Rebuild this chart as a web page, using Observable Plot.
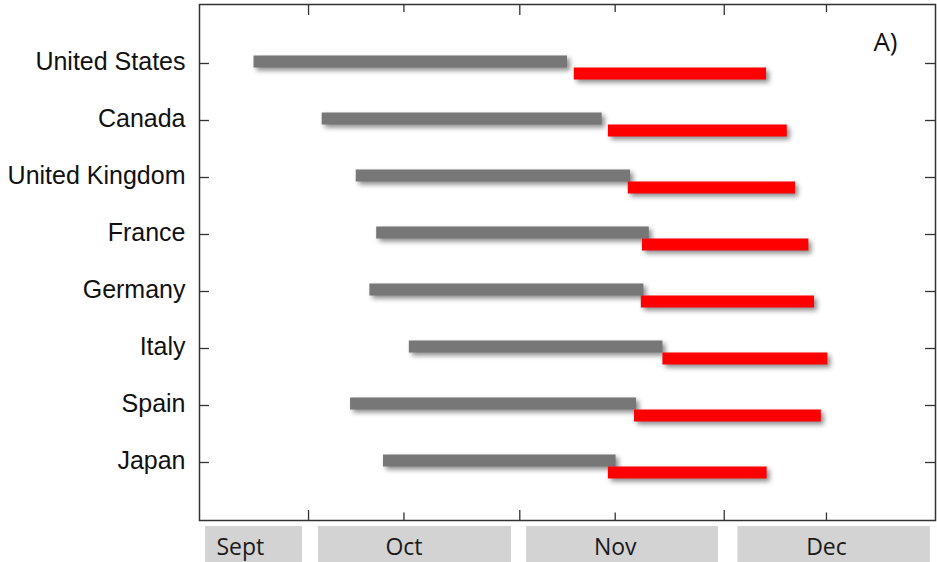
<!DOCTYPE html>
<html><head><meta charset="utf-8">
<script src="https://cdn.jsdelivr.net/npm/d3@7"></script>
<script src="https://cdn.jsdelivr.net/npm/@observablehq/plot@0.6"></script>
<style>
html,body{margin:0;padding:0;background:#fff;}
#chart svg{display:block;}
</style></head><body><div id="chart"></div>
<script>
// Data
const countries = ["United States","Canada","United Kingdom","France","Germany","Italy","Spain","Japan"];
const grayStart = ["2020-09-23","2020-10-03","2020-10-08","2020-10-11","2020-10-10","2020-10-15T19:00Z","2020-10-07T04:00Z","2020-10-12"];
const grayEnd   = ["2020-11-08","2020-11-13T02:00Z","2020-11-17T06:00Z","2020-11-20","2020-11-19T05:00Z","2020-11-22","2020-11-18T03:00Z","2020-11-15T03:00Z"];
const redStart  = ["2020-11-09","2020-11-14","2020-11-16T22:00Z","2020-11-19","2020-11-18T20:00Z","2020-11-22","2020-11-17T20:00Z","2020-11-14"];
const redEnd    = ["2020-12-07T05:00Z","2020-12-10T06:00Z","2020-12-11T11:00Z","2020-12-13T10:00Z","2020-12-14T06:00Z","2020-12-16T05:00Z","2020-12-15T06:00Z","2020-12-07T07:00Z"];

const monthStartTicks = ["2020-10-01","2020-11-01","2020-12-01"];
const midMonthTicks = ["2020-10-15","2020-11-15","2020-12-16"];

const monthNames = ["Sept","Oct","Nov","Dec"];
const monthBoxFrom = ["2020-09-15T21:00Z","2020-10-02T11:00Z","2020-11-02","2020-12-03"];
const monthBoxTo   = ["2020-09-30T03:00Z","2020-10-30T19:00Z","2020-11-30T04:00Z","2020-12-31T06:00Z"];
const monthLabelAt = ["2020-09-21","2020-10-15","2020-11-15","2020-12-16"];

const xDomainDates = ["2020-09-15","2021-01-01"];
const panelLabel = ["A)"];

const T = s => new Date(s);
const rows = countries.map((c, i) => ({country: c, g0: T(grayStart[i]), g1: T(grayEnd[i]), r0: T(redStart[i]), r1: T(redEnd[i])}));
const months = monthNames.map((m, i) => ({name: m, from: T(monthBoxFrom[i]), to: T(monthBoxTo[i]), at: T(monthLabelAt[i])}));
const xDomain = xDomainDates.map(T);
const shadow = "drop-shadow(3px 3px 2.5px rgba(0,0,0,0.45))";
const axisColor = "#333";

const main = Plot.plot({
  width: 937, height: 524,
  marginLeft: 199, marginRight: 2, marginTop: 4, marginBottom: 4,
  x: {type: "utc", domain: xDomain, axis: null},
  y: {type: "point", domain: countries, padding: 1, axis: null, label: null},
  style: {background: "#fff", fontFamily: "'Liberation Sans', Arial, sans-serif"},
  marks: [
    Plot.axisY({tickSize: 0, tickPadding: 14, label: null, fontSize: 25, dy: -2, color: "#111", fontFamily: "'Liberation Sans', Arial, sans-serif"}),
    Plot.ruleY(rows, {y: "country", x1: "g0", x2: "g1", stroke: "#777777", strokeWidth: 12, dy: -2, imageFilter: shadow}),
    Plot.ruleY(rows, {y: "country", x1: "r0", x2: "r1", stroke: "#ff0000", strokeWidth: 12, dy: 10, imageFilter: shadow}),
    // inward ticks
    Plot.ruleY(countries, {y: d => d, insetRight: 726, stroke: axisColor, strokeWidth: 1.3}),
    Plot.ruleY(countries, {y: d => d, insetLeft: 726, stroke: axisColor, strokeWidth: 1.3}),
    Plot.ruleX(monthStartTicks.map(T), {x: d => d, insetTop: 506, stroke: axisColor, strokeWidth: 1.3}),
    Plot.ruleX(monthStartTicks.map(T), {x: d => d, insetBottom: 505, stroke: axisColor, strokeWidth: 1.3}),
    Plot.ruleX(midMonthTicks.map(T), {x: d => d, insetTop: 508.5, stroke: axisColor, strokeWidth: 1.3}),
    Plot.ruleX(midMonthTicks.map(T), {x: d => d, insetBottom: 508, stroke: axisColor, strokeWidth: 1.3}),
    Plot.text(panelLabel, {text: d => d, frameAnchor: "top-right", textAnchor: "end", lineAnchor: "middle", dx: -38, dy: 38, fontSize: 26, fontFamily: "'Open Sans', sans-serif", fill: "#111"}),
    Plot.frame({stroke: axisColor, strokeWidth: 1.5})
  ]
});

const band = Plot.plot({
  width: 937, height: 38,
  marginLeft: 199, marginRight: 2, marginTop: 2, marginBottom: 0,
  x: {type: "utc", domain: xDomain, axis: null},
  style: {background: "#fff"},
  marks: [
    Plot.rect(months, {x1: "from", x2: "to", fill: "#d3d3d3"}),
    Plot.text(months, {x: "at", text: "name", frameAnchor: "middle", dy: 3, fontSize: 23, fontFamily: "'Open Sans', sans-serif", fill: "#1a1a1a"})
  ]
});

document.getElementById("chart").append(main, band);
</script>
</body></html>
